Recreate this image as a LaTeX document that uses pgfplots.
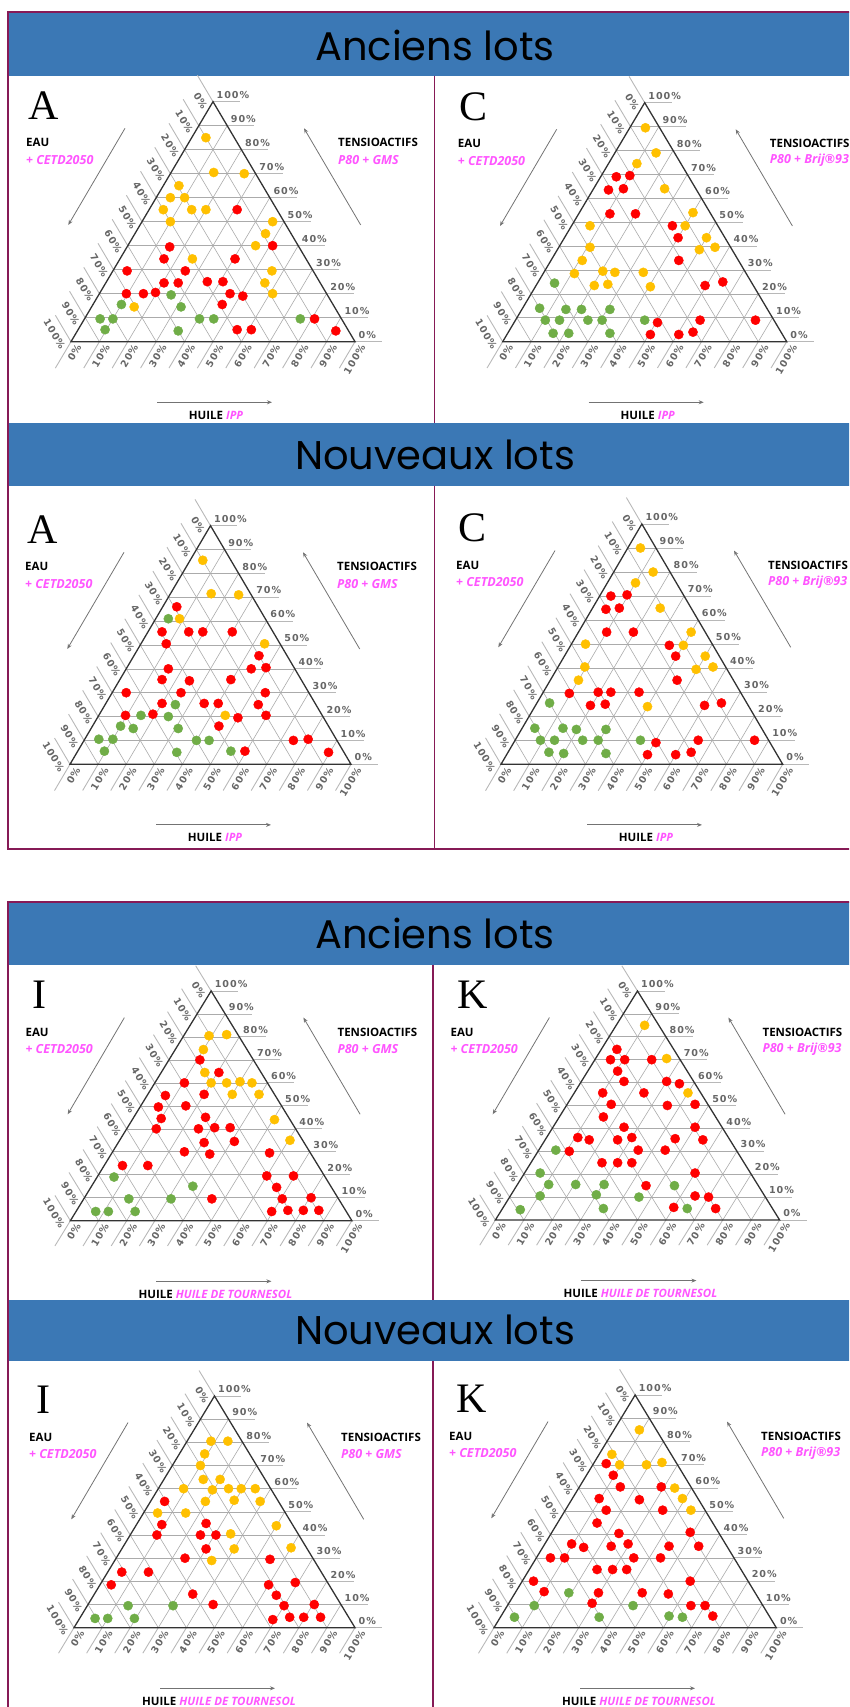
\documentclass[border=0pt]{standalone}
\usepackage{fontspec}
\usepackage{pgfplots}
\pgfplotsset{compat=1.18}
\usetikzlibrary{arrows.meta}
\newfontfamily\titlefont{Poppins}
\newfontfamily\labfont{Open Sans}
\newfontfamily\letterfont{Liberation Serif}
\newfontfamily\tickfont{DejaVu Sans}[LetterSpace=10]
\definecolor{hdrblue}{RGB}{59,120,181}
\definecolor{framec}{RGB}{134,26,86}
\definecolor{mag}{RGB}{255,85,255}
\definecolor{cred}{RGB}{255,0,0}
\definecolor{corange}{RGB}{255,192,0}
\definecolor{cgreen}{RGB}{112,173,71}

\pgfplotsset{
  tern/.style={scale only axis, hide axis, clip=false, anchor=south west,
    xmin=0, xmax=100, ymin=0, ymax=100},
  dots/.style={only marks, mark=*, mark size=4.6pt},
}
\tikzset{
  gridl/.style={draw=black!33, line width=0.6pt},
  tickl/.style={draw=black!28, line width=0.9pt},
  tlab/.style={font=\tickfont\bfseries\fontsize{9.6}{11}\selectfont, text=black!60, inner sep=0pt},
  blab/.style={font=\labfont\bfseries\fontsize{11.5}{13}\selectfont, inner sep=0pt},
  mlab/.style={font=\labfont\bfseries\itshape\fontsize{12.5}{14}\selectfont, text=mag, inner sep=0pt},
  garrow/.style={draw=black!55, line width=0.8pt, -{Stealth[length=5pt,width=4pt]}},
  title/.style={anchor=base, font=\titlefont\fontsize{40}{40}\selectfont},
}
% grid, ticks and labels of one ternary panel
% #1 letter, #2 letter shift, #3 surfactant, #4 oil
\newcommand\terndeco[4]{%
  \pgfplotsinvokeforeach{10,20,...,90}{%
    \draw[gridl] (axis cs:##1/2,##1) -- (axis cs:100-##1/2,##1);
    \draw[gridl] (axis cs:##1,0) -- (axis cs:50+##1/2,100-##1);
    \draw[gridl] (axis cs:##1,0) -- (axis cs:##1/2,##1);
  }%
  \pgfplotsinvokeforeach{0,10,...,100}{%
    \draw[tickl] (axis cs:100-##1/2,##1) -- (axis cs:109.5-##1/2,##1);
    \draw[tickl] (axis cs:##1,0) -- (axis cs:##1-5.5,-11);
    \draw[tickl] (axis cs:##1/2,##1) -- (axis cs:##1/2-5.5,##1+11);
    \node[tlab,anchor=south west] at ([shift={(3.5pt,3pt)}]axis cs:100-##1/2,##1) {##1\%};
    \node[tlab,anchor=east,rotate=59] at ([shift={(8pt,-3.5pt)}]axis cs:##1,0) {##1\%};
    \node[tlab,anchor=east,rotate=-59] at ([shift={(-8pt,-6.5pt)}]axis cs:50-##1/2,100-##1) {##1\%};
  }%
  \draw[black!80, line width=1.3pt] (axis cs:0,0) -- (axis cs:100,0) -- (axis cs:50,100) -- cycle;
  \node[anchor=base west, inner sep=0pt, font=\letterfont\fontsize{42}{42}\selectfont] at ([shift={(#2,-17.5pt)}]axis cs:0,100) {#1};
  \node[blab, anchor=west] at ([shift={(-45pt,-41pt)}]axis cs:0,100) {EAU};
  \node[mlab, anchor=west] at ([shift={(-45pt,-58pt)}]axis cs:0,100) {+ CETD2050};
  \node[blab, anchor=west] at ([shift={(267pt,-41pt)}]axis cs:0,100) {TENSIOACTIFS};
  \node[mlab, anchor=west] at ([shift={(267pt,-58pt)}]axis cs:0,100) {#3};
  \draw[garrow] ([shift={(54pt,-26.6pt)}]axis cs:0,100) -- ([shift={(-2.7pt,-123.3pt)}]axis cs:0,100);
  \draw[garrow] ([shift={(289.7pt,-123.3pt)}]axis cs:0,100) -- ([shift={(233pt,-26.6pt)}]axis cs:0,100);
  \draw[garrow] ([shift={(86pt,-60.6pt)}]axis cs:0,0) -- ([shift={(201pt,-60.6pt)}]axis cs:0,0);
  \node[blab] at ([shift={(145pt,-73.3pt)}]axis cs:0,0) {HUILE \textcolor{mag}{\itshape #4}};
}

\begin{document}
\begin{tikzpicture}[x=1pt,y=1pt]
\path[use as bounding box] (0,0) rectangle (849,1707);
\clip (0,0) rectangle (849,1707);
% block 1
\fill[hdrblue] (8,1631) rectangle (860,1694.5);
\fill[hdrblue] (8,1221) rectangle (860,1284);
\draw[framec, line width=1.8pt] (8.3,858) rectangle (870,1695.3);
\draw[framec, line width=1.5pt] (434.7,1631) -- (434.7,1284) (434.7,1221) -- (434.7,858);
\node[title] at (435,1646) {Anciens lots};
\node[title] at (435,1237) {Nouveaux lots};
% block 2
\fill[hdrblue] (8,742) rectangle (860,805);
\fill[hdrblue] (8,346) rectangle (860,407);
\draw[framec, line width=1.8pt] (8.3,-20) rectangle (870,805.3);
\draw[framec, line width=1.5pt] (433,742) -- (433,407) (433,346) -- (433,-20);
\node[title] at (435,758) {Anciens lots};
\node[title] at (435,362) {Nouveaux lots};

% ---- A, anciens lots
\begin{axis}[tern, at={(71pt,1365.3pt)}, width=284pt, height=240pt]
\terndeco{A}{-43pt}{P80 + GMS}{IPP}
\addplot[dots, corange] table[x expr=\thisrow{h}+0.5*\thisrow{t}, y=t] {
h t
5 85
15 70.5
26 70
5.5 65
5 60
10 60
5 55
15 55
20 55
10 50
46 50
46 45
45 40
25.5 34.5
56 29.5
56 24.5
61 20
15 14.5
};
\addplot[dots, cred] table[x expr=\thisrow{h}+0.5*\thisrow{t}, y=t] {
h t
31 55
51 40
15 39.5
15.5 34.5
40.5 34.5
5 29.5
25.5 29.5
20.5 24.5
25.5 24.5
35.5 25
41 25
9.5 20
15.5 20
19.5 20.5
46 20
51 19
45.5 15.5
81 9.5
56 5
61 5
91 4.5
};
\addplot[dots, cgreen] table[x expr=\thisrow{h}+0.5*\thisrow{t}, y=t] {
h t
25.5 19.5
10 15.5
31.5 14.5
5.5 9.5
10 9.5
40.5 9.5
45.5 9.5
76 9.5
9.5 5
35.5 4.5
};
\end{axis}

% ---- C, anciens lots
\begin{axis}[tern, at={(502.7pt,1365.3pt)}, width=284pt, height=239pt]
\terndeco{C}{-43pt}{P80 + Brij®93}{IPP}
\addplot[dots, corange] table[x expr=\thisrow{h}+0.5*\thisrow{t}, y=t] {
h t
5.5 89.5
14.5 79
10 74.5
25 64
40 54
40 48.5
6.5 48.5
50 43.5
55 39.5
50 38.5
11 39.5
11 34
11 28.5
20.5 29.5
25 29
35 29
20.5 23.5
25 24
40.5 23
};
\addplot[dots, cred] table[x expr=\thisrow{h}+0.5*\thisrow{t}, y=t] {
h t
5.5 69
10 69.5
5.5 63.5
10.5 64
11 53.5
20 53.5
35.5 48.5
40 43.5
45 34
59.5 23.5
65 25
50.5 8
65 9
84.5 9
50.5 3
60.5 3
65 4
};
\addplot[dots, cgreen] table[x expr=\thisrow{h}+0.5*\thisrow{t}, y=t] {
h t
6 24.5
6 14
15.5 13.5
21 13.5
31 13.5
10.5 9
15.5 9
25.5 9
30.5 9
45.5 9
16 3.5
21.5 3.5
36 3.5
};
\end{axis}

% ---- A, nouveaux lots
\begin{axis}[tern, at={(70pt,942.7pt)}, width=281pt, height=238.6pt]
\terndeco{A}{-43pt}{P80 + GMS}{IPP}
\addplot[dots, corange] table[x expr=\thisrow{h}+0.5*\thisrow{t}, y=t] {
h t
4.5 85.5
14.5 71.5
24.5 71
8.5 61
44 50.5
45 20.5
};
\addplot[dots, cred] table[x expr=\thisrow{h}+0.5*\thisrow{t}, y=t] {
h t
5 66
5 55.5
14.5 55.5
19.5 55.5
30 55.5
9 50.5
44.5 45.5
44.5 40
49.5 40.5
15 40
15 35.5
25 35
39.5 35.5
54.5 30
5 30
24.5 30
20 25.5
35 25.5
40 25.5
54.5 25
9.5 20.5
19 21
59.5 20.5
50 19.5
45 16
74.5 10
79.5 10.5
59.5 5.5
89.5 5
};
\addplot[dots, cgreen] table[x expr=\thisrow{h}+0.5*\thisrow{t}, y=t] {
h t
4.5 61
25 25
15 20.5
25 20
10 16
15 15
31 15
5 10.5
10 10.5
40 10
44.5 10
9.5 5.5
35.5 5
54.5 5.5
};
\end{axis}

% ---- C, nouveaux lots
\begin{axis}[tern, at={(501pt,942.7pt)}, width=281.7pt, height=240.3pt]
\terndeco{C}{-43pt}{P80 + Brij®93}{IPP}
\addplot[dots, corange] table[x expr=\thisrow{h}+0.5*\thisrow{t}, y=t] {
h t
4.5 90
14 80
10 75.5
24 65
40 55
40 49.5
5 50
50 45
55 40.5
49.5 39.5
9.5 40.5
10 35
40 24
};
\addplot[dots, cred] table[x expr=\thisrow{h}+0.5*\thisrow{t}, y=t] {
h t
4 70
9.5 70.5
5 64.5
9.5 65
10 55
19.5 55
35 49.5
39.5 45
45 35
9.5 29.5
19.5 30
24 30
34 30
19.5 24.5
24.5 25
60 24.5
65.5 25.5
50.5 9
65 10
85 10
50 4
60 4
65 5
};
\addplot[dots, cgreen] table[x expr=\thisrow{h}+0.5*\thisrow{t}, y=t] {
h t
4.5 25.5
4.5 15
14.5 15
19.5 14.5
30 14.5
9 10
14 10
24 10
29.5 10
44.5 10
14.5 5
20 4.5
35 4.5
};
\end{axis}

% ---- I, anciens lots
\begin{axis}[tern, at={(70.4pt,486.3pt)}, width=281.5pt, height=229.7pt]
\terndeco{I}{-38pt}{P80 + GMS}{HUILE DE TOURNESOL}
\addplot[dots, corange] table[x expr=\thisrow{h}+0.5*\thisrow{t}, y=t] {
h t
9 80.5
15 81
10 74.5
15.5 64.5
20 60
25.5 60
30 60.5
34.5 60
30 55
39.5 55
50.5 44
60.5 35
};
\addplot[dots, cred] table[x expr=\thisrow{h}+0.5*\thisrow{t}, y=t] {
h t
11 70
20.5 64.5
10.5 60
20 55
6.5 54.5
6.5 49.5
16 50
10 44.5
25.5 45
10.5 40
25.5 40
31 40.5
36.5 40.5
30.5 34
41 34.5
25.5 30
35 29
56 29.5
6.5 24
15.5 24
60 19.5
69.5 19.5
66 14.5
45.5 9.5
70.5 9.5
80.5 10
69.5 4
75 4.5
80.5 4.5
86 4.5
};
\addplot[dots, cgreen] table[x expr=\thisrow{h}+0.5*\thisrow{t}, y=t] {
h t
6 19
36 15
16 9.5
31 9.5
7 4
11.5 4
21 4
};
\end{axis}

% ---- K, anciens lots
\begin{axis}[tern, at={(495.4pt,487pt)}, width=284.2pt, height=229pt]
\terndeco{K}{-38pt}{P80 + Brij®93}{HUILE DE TOURNESOL}
\addplot[dots, corange] table[x expr=\thisrow{h}+0.5*\thisrow{t}, y=t] {
h t
10 85
25 70.5
40 55.5
};
\addplot[dots, cred] table[x expr=\thisrow{h}+0.5*\thisrow{t}, y=t] {
h t
5.5 74.5
5.5 70
10.5 70
20 70
10.5 65
15 60.5
30 60.5
35 59.5
10 55.5
24.5 55.5
15.5 50.5
35.5 50
45 50.5
15.5 45
25 40.5
50 40.5
11 36
15.5 35
25.5 35
30 36
45.5 35.5
55.5 35
11 30
35 30.5
44.5 30.5
25 25
30.5 25
35.5 25
60 20.5
45.5 15
65 10.5
70 10
60 5.5
75 5
};
\addplot[dots, cgreen] table[x expr=\thisrow{h}+0.5*\thisrow{t}, y=t] {
h t
6 30.5
5.5 20.5
11 15.5
20.5 15.5
30.5 15.5
55.5 15
10.5 10.5
30 11
45.5 10
6.5 4.5
35.5 5
65 5
};
\end{axis}

% ---- I, nouveaux lots
\begin{axis}[tern, at={(74pt,79.3pt)}, width=281pt, height=231.7pt]
\terndeco{I}{-38pt}{P80 + GMS}{HUILE DE TOURNESOL}
\addplot[dots, corange] table[x expr=\thisrow{h}+0.5*\thisrow{t}, y=t] {
h t
8.5 80.5
14.5 80.5
9 75
10 70
14 64
20 64
9 60
19.5 59.5
25 60
29.5 60
34.5 60
19.5 54.5
29.5 55
39 54.5
5 49.5
15 49.5
50 44
35.5 40.5
60 34.5
40 34
34.5 29
};
\addplot[dots, cred] table[x expr=\thisrow{h}+0.5*\thisrow{t}, y=t] {
h t
5 54.5
9 44.5
9.5 40
24.5 45
25 40
30.5 40
30 34
24.5 30
55 29.5
5 24
14.5 24
4 18.5
60 18.5
69 19.5
35 14.5
65 14
44.5 10
70 9.5
80.5 10
69 3.5
74.5 4.5
79.5 4.5
85.5 4.5
};
\addplot[dots, cgreen] table[x expr=\thisrow{h}+0.5*\thisrow{t}, y=t] {
h t
14.5 9.5
30.5 9.5
5.5 4
10 4
19.5 4
};
\end{axis}

% ---- K, nouveaux lots
\begin{axis}[tern, at={(494pt,79.3pt)}, width=282.3pt, height=232.7pt]
\terndeco{K}{-38pt}{P80 + Brij®93}{HUILE DE TOURNESOL}
\addplot[dots, corange] table[x expr=\thisrow{h}+0.5*\thisrow{t}, y=t] {
h t
9 85
4.5 74.5
9.5 70
19 70
24 71
34 60
39 55.5
44.5 50.5
};
\addplot[dots, cred] table[x expr=\thisrow{h}+0.5*\thisrow{t}, y=t] {
h t
4.5 70.5
9.5 65.5
14.5 60.5
29 60.5
9.5 55.5
24 55
14.5 50.5
34.5 50.5
14 45
49 41
24 40.5
9.5 36
14.5 34.5
24 35
29.5 36
44.5 35
55 35
5 30
10 30
34.5 30
44 30
24 25
29.5 25
34.5 25
4 20
59.5 20
10 15.5
29.5 15
45 15
54.5 14.5
29.5 10.5
65 9.5
70 9.5
75 5
};
\addplot[dots, cgreen] table[x expr=\thisrow{h}+0.5*\thisrow{t}, y=t] {
h t
19 15
9.5 9.5
44.5 9.5
5 4.5
35 4.5
59.5 5
64.5 4.5
};
\end{axis}
\end{tikzpicture}
\end{document}
